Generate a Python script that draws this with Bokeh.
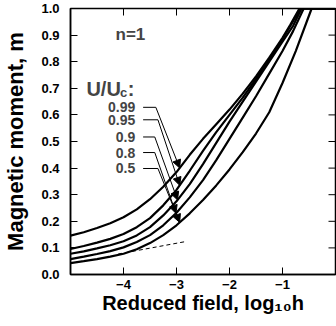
import numpy as np
from bokeh.plotting import figure
from bokeh.models import (FixedTicker, PrintfTickFormatter, Arrow,
                          NormalHead, Label, Range1d)
from bokeh.embed import file_html
from bokeh.resources import INLINE

# ---- data: x = log10 h, m = magnetic moment ----
ratios = ["0.99", "0.95", "0.9", "0.8", "0.5"]
x_099 = [-5.0, -4.75, -4.5, -4.25, -4.0, -3.75, -3.5, -3.25, -3.0, -2.75, -2.5, -2.25,
         -2.0, -1.75, -1.5, -1.25, -1.0, -0.85, -0.68, 0.0]
m_099 = [0.146, 0.159, 0.175, 0.193, 0.215, 0.245, 0.283, 0.33, 0.385, 0.45, 0.51, 0.565,
         0.62, 0.68, 0.745, 0.815, 0.89, 0.94, 1.0, 1.0]
x_095 = [-5.0, -4.75, -4.5, -4.25, -4.0, -3.75, -3.5, -3.25, -3.0, -2.75, -2.5, -2.25,
         -2.0, -1.75, -1.5, -1.25, -1.0, -0.85, -0.66, 0.0]
m_095 = [0.096, 0.107, 0.12, 0.134, 0.152, 0.178, 0.212, 0.26, 0.318, 0.39, 0.465, 0.535,
         0.60, 0.665, 0.735, 0.81, 0.885, 0.935, 1.0, 1.0]
x_090 = [-5.0, -4.75, -4.5, -4.25, -4.0, -3.75, -3.5, -3.25, -3.0, -2.75, -2.5, -2.25,
         -2.0, -1.75, -1.5, -1.25, -1.0, -0.8, -0.64, 0.0]
m_090 = [0.078, 0.087, 0.098, 0.11, 0.125, 0.147, 0.178, 0.222, 0.275, 0.34, 0.415, 0.495,
         0.575, 0.65, 0.725, 0.80, 0.875, 0.935, 1.0, 1.0]
x_080 = [-5.0, -4.75, -4.5, -4.25, -4.0, -3.75, -3.5, -3.25, -3.0, -2.75, -2.5, -2.25,
         -2.0, -1.75, -1.5, -1.25, -1.0, -0.8, -0.6, 0.0]
m_080 = [0.058, 0.067, 0.077, 0.088, 0.102, 0.122, 0.148, 0.185, 0.232, 0.29, 0.355, 0.43,
         0.51, 0.59, 0.67, 0.755, 0.84, 0.915, 1.0, 1.0]
x_050 = [-5.0, -4.75, -4.5, -4.25, -4.0, -3.75, -3.5, -3.25, -3.0, -2.75, -2.5, -2.25,
         -2.0, -1.75, -1.5, -1.25, -1.0, -0.75, -0.45, 0.0]
m_050 = [0.043, 0.05, 0.058, 0.067, 0.078, 0.095, 0.118, 0.148, 0.185, 0.23, 0.28, 0.335,
         0.395, 0.46, 0.53, 0.61, 0.72, 0.84, 1.0, 1.0]
x_dash = [-4.1, -2.85]
m_dash = [0.077, 0.123]

x_ticks = [-4, -3, -2, -1]
y_ticks = [0.0, 0.1, 0.2, 0.3, 0.4, 0.5, 0.6, 0.7, 0.8, 0.9, 1.0]

series = [(x_099, m_099), (x_095, m_095), (x_090, m_090), (x_080, m_080), (x_050, m_050)]

FONT = "Liberation Sans"
X0, X1 = -5.0, 0.0

p = figure(width=336, height=326, output_backend="svg", toolbar_location=None,
           x_range=Range1d(X0, X1), y_range=Range1d(0, 1),
           min_border_left=66, min_border_right=1, min_border_top=8, min_border_bottom=52)
p.grid.visible = False
p.outline_line_color = "black"
p.outline_line_width = 1.5
p.background_fill_color = "white"
p.border_fill_color = "white"

def style_axis(ax):
    ax.axis_line_width = 1.5
    ax.major_tick_in = 7
    ax.major_tick_out = 0
    ax.minor_tick_in = 0
    ax.minor_tick_out = 0
    ax.major_tick_line_width = 1
    ax.major_label_text_font = FONT
    ax.major_label_text_font_style = "bold"
    ax.major_label_text_font_size = "13px"
    ax.major_label_text_color = "black"
    ax.axis_label_text_font = FONT
    ax.axis_label_text_font_style = "bold"
    ax.axis_label_text_font_size = "20px"
    ax.axis_label_text_color = "black"

xa = p.xaxis[0]
xa.ticker = FixedTicker(ticks=x_ticks)
style_axis(xa)
xa.major_label_standoff = 5
xa.axis_label = "Reduced field, log\u2081\u2080h"
xa.axis_label_standoff = 0

ya = p.yaxis[0]
ya.ticker = FixedTicker(ticks=y_ticks)
ya.formatter = PrintfTickFormatter(format="%.1f")
style_axis(ya)
ya.major_label_standoff = 11
ya.axis_label = "Magnetic moment, m"
ya.axis_label_text_font_size = "22px"
ya.axis_label_standoff = 10

# inward tick marks on the right and top frame edges
p.ray(x=[X1] * len(y_ticks), y=y_ticks, length=7, length_units="screen",
      angle=np.pi, line_color="black", line_width=1)
p.ray(x=x_ticks, y=[1.0] * len(x_ticks), length=7, length_units="screen",
      angle=-np.pi / 2, line_color="black", line_width=1)

for xs, ms in series:
    p.line(xs, ms, line_color="black", line_width=2.2)
p.line(x_dash, m_dash, line_color="black", line_width=1, line_dash="4 3")

# annotations
p.add_layout(Label(x=-3.87, y=0.902, text="n=1", text_align="center", text_baseline="middle",
                   text_font=FONT, text_font_style="bold", text_font_size="17px"))
p.add_layout(Label(x=-4.70, y=0.696, text="U/U", text_align="left", text_baseline="alphabetic",
                   text_font=FONT, text_font_style="bold", text_font_size="20px"))
p.add_layout(Label(x=-4.065, y=0.685, text="c", text_align="left", text_baseline="alphabetic",
                   text_font=FONT, text_font_style="bold", text_font_size="13px"))
p.add_layout(Label(x=-3.92, y=0.696, text=":", text_align="left", text_baseline="alphabetic",
                   text_font=FONT, text_font_style="bold", text_font_size="20px"))

label_m = [0.6285, 0.5816, 0.517, 0.4585, 0.3985]
elbow_x = [-3.39, -3.35, -3.41, -3.41, -3.35]
tip_x = [-2.94, -2.94, -2.98, -3.01, -2.94]
for (xs, ms), txt, lm, ex, tx in zip(series, ratios, label_m, elbow_x, tip_x):
    p.add_layout(Label(x=-3.778, y=lm, text=txt, text_align="right", text_baseline="middle",
                       text_font=FONT, text_font_style="bold", text_font_size="14px"))
    p.line([-3.63, ex], [lm, lm], line_color="black", line_width=1)
    ty = float(np.interp(tx, xs, ms))
    p.add_layout(Arrow(end=NormalHead(size=8, fill_color="black", line_color="black"),
                       x_start=ex, y_start=lm, x_end=tx, y_end=ty,
                       line_color="black", line_width=1))

open("out.html", "w").write(file_html(p, INLINE))
